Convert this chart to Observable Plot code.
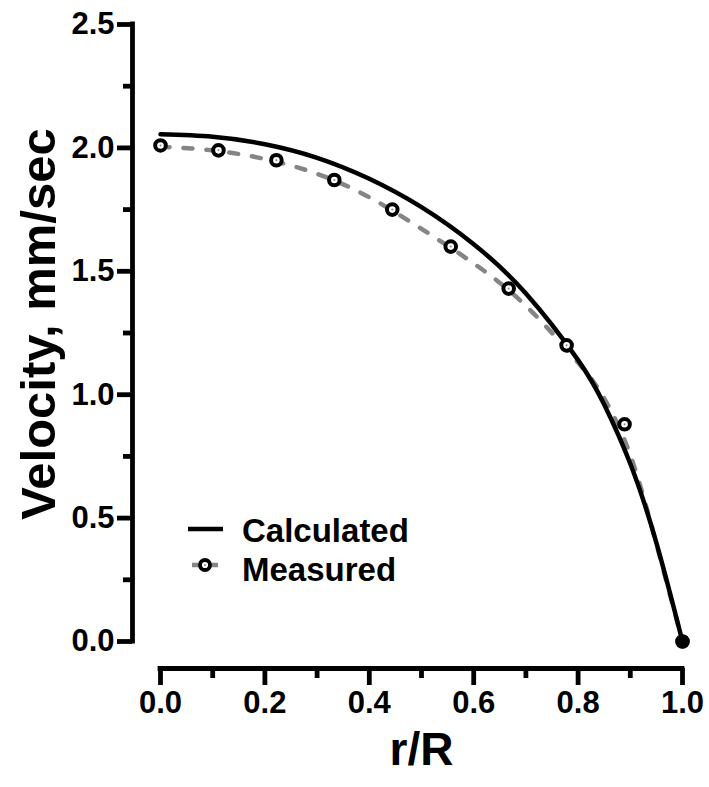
<!DOCTYPE html>
<html><head><meta charset="utf-8">
<script src="https://cdn.jsdelivr.net/npm/d3@7"></script>
<script src="https://cdn.jsdelivr.net/npm/@observablehq/plot@0.6"></script>
<style>
html,body{margin:0;padding:0;background:#fff;}
#wrap{position:relative;width:709px;height:787px;font-family:"Liberation Sans",Arial,sans-serif;}
.lg{position:absolute;font-weight:bold;font-size:33px;line-height:33px;color:#000;white-space:nowrap;}
.sw{position:absolute;overflow:visible;}
</style></head><body>
<div id="wrap"><div id="chart"></div>
<svg class="sw" style="left:186px;top:519px" width="44" height="20"><line x1="2" x2="37" y1="10" y2="10" stroke="#000" stroke-width="4.5"/></svg>
<div class="lg" style="left:242px;top:514px">Calculated</div>
<svg class="sw" style="left:186px;top:555px" width="44" height="20"><line x1="6" x2="34" y1="10" y2="10" stroke="#858585" stroke-width="4.5" stroke-dasharray="10,6"/><circle cx="19" cy="10" r="5" fill="#fff" stroke="#000" stroke-width="3.8"/><circle cx="19" cy="10" r="1" fill="#888"/></svg>
<div class="lg" style="left:242px;top:553px">Measured</div>
</div>
<script>
// Measured points (r/R, velocity mm/sec)
const rMeasured = [0, 0.111, 0.222, 0.333, 0.444, 0.556, 0.667, 0.778, 0.889, 1.0];
const vMeasured = [2.01, 1.99, 1.95, 1.87, 1.75, 1.60, 1.43, 1.20, 0.88, 0.00];
// Dashed curve through measured data
const rMeasuredCurve = [0, 0.1, 0.2, 0.3, 0.4, 0.5, 0.6, 0.7, 0.8, 0.85, 0.9, 0.95, 1.0];
const vMeasuredCurve = [2.005, 1.990, 1.955, 1.895, 1.800, 1.672, 1.532, 1.360, 1.130, 0.985, 0.755, 0.395, 0.000];
// Calculated profile
const rCalculated = [0, 0.1, 0.2, 0.3, 0.4, 0.5, 0.6, 0.7, 0.8, 0.85, 0.9, 0.95, 1.0];
const vCalculated = [2.055, 2.045, 2.015, 1.960, 1.875, 1.760, 1.610, 1.410, 1.140, 0.960, 0.720, 0.400, 0.000];
// Ticks
const xTicks = [0, 0.2, 0.4, 0.6, 0.8, 1.0];
const xTickLabels = ["0.0", "0.2", "0.4", "0.6", "0.8", "1.0"];
const xMinorTicks = [0.1, 0.3, 0.5, 0.7, 0.9];
const yTicks = [0, 0.5, 1.0, 1.5, 2.0, 2.5];
const yTickLabels = ["0.0", "0.5", "1.0", "1.5", "2.0", "2.5"];
const yMinorTicks = [0.25, 0.75, 1.25, 1.75, 2.25];
const xTitle = ["r/R"];
const yTitle = ["Velocity, mm/sec"];

const measured = rMeasured.map((r, i) => ({r, v: vMeasured[i]}));
const measuredCurve = rMeasuredCurve.map((r, i) => ({r, v: vMeasuredCurve[i]}));
const calculated = rCalculated.map((r, i) => ({r, v: vCalculated[i]}));

const plot = Plot.plot({
  width: 709, height: 787,
  marginLeft: 160, marginRight: 27, marginTop: 24, marginBottom: 146,
  style: {fontFamily: "'Liberation Sans', Arial, sans-serif", fontWeight: "bold", fontSize: "31px", color: "#000", background: "#fff", overflow: "visible"},
  x: {domain: [0, 1]},
  y: {domain: [0, 2.5]},
  marks: [
    Plot.ruleX([0], {y1: 0, y2: 2.5, dx: -28, strokeWidth: 4.8, strokeLinecap: "square"}),
    Plot.ruleY([0], {x1: 0, x2: 1, dy: 27, strokeWidth: 4.8, strokeLinecap: "square"}),
    Plot.axisY(yMinorTicks, {tickSize: 9, dx: -28, strokeWidth: 4.8, fill: "none", label: null}),
    Plot.axisY(yTicks, {tickSize: 15, dx: -28, strokeWidth: 4.8, tickPadding: 3, label: null, fontSize: 31,
      tickFormat: d => yTickLabels[yTicks.indexOf(d)]}),
    Plot.axisX(xMinorTicks, {tickSize: 10, dy: 27, strokeWidth: 4.8, fill: "none", label: null}),
    Plot.axisX(xTicks, {tickSize: 17, dy: 27, strokeWidth: 4.8, tickPadding: 5, label: null, fontSize: 31,
      tickFormat: d => xTickLabels[xTicks.indexOf(d)]}),
    Plot.line(measuredCurve, {x: "r", y: "v", stroke: "#858585", strokeWidth: 4.5, strokeDasharray: "9,14", strokeLinecap: "round", curve: "natural"}),
    Plot.line(calculated, {x: "r", y: "v", stroke: "#000", strokeWidth: 4.5, curve: "natural"}),
    Plot.dot(measured, {x: "r", y: "v", r: 5.3, fill: "#fff", stroke: "#000", strokeWidth: 4}),
    Plot.dot(measured, {x: "r", y: "v", r: 1, fill: "#888"}),
    Plot.dot(calculated.slice(-1), {x: "r", y: "v", r: 7, fill: "#000"}),
    Plot.text(yTitle, {text: d => d, frameAnchor: "left", textAnchor: "middle", rotate: -90, dx: -121, dy: -9, fontSize: 49, fontWeight: "bold"}),
    Plot.text(xTitle, {text: d => d, frameAnchor: "bottom", textAnchor: "middle", dy: 123, fontSize: 46, fontWeight: "bold"})
  ]
});
document.getElementById("chart").appendChild(plot);
</script>
</body></html>
